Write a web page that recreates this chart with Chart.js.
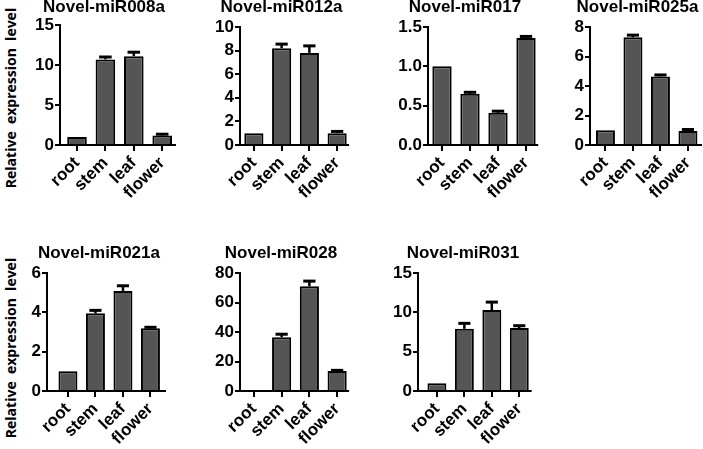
<!DOCTYPE html>
<html>
<head>
<meta charset="utf-8">
<script src="https://cdn.jsdelivr.net/npm/chart.js@4"></script>
<style>
body { margin: 0; background: #fff; width: 703px; height: 449px; position: relative; overflow: hidden; }
canvas { position: absolute; }
.ylab { position: absolute; font-family: 'Open Sans', sans-serif; font-weight: 700; font-size: 14px; white-space: pre; color: #000;
        transform: translate(-50%, -50%) rotate(-90deg); }
</style>
</head>
<body>
<div class="ylab" style="left:10px;top:98px">Relative  expression  level</div>
<div class="ylab" style="left:10px;top:348px">Relative  expression  level</div>
<script>
const categories = ['root', 'stem', 'leaf', 'flower'];
const titles = ['Novel-miR008a', 'Novel-miR012a', 'Novel-miR017', 'Novel-miR025a',
                'Novel-miR021a', 'Novel-miR028', 'Novel-miR031'];

// mean relative expression and error (upper whisker only)
const miR008a = [1.0, 10.7, 11.1, 1.2];
const miR008aErr = [0, 0.3, 0.5, 0.15];
const miR012a = [1.0, 8.2, 7.8, 1.0];
const miR012aErr = [0, 0.35, 0.6, 0.15];
const miR017 = [1.0, 0.65, 0.41, 1.36];
const miR017Err = [0, 0.02, 0.02, 0.02];
const miR025a = [1.0, 7.3, 4.65, 0.95];
const miR025aErr = [0, 0.15, 0.1, 0.1];
const miR021a = [1.0, 3.95, 5.08, 3.19];
const miR021aErr = [0, 0.15, 0.27, 0.05];
const miR028 = [0.5, 36.5, 71, 13.5];
const miR028Err = [0, 2, 3.5, 0.5];
const miR031 = [1.0, 7.9, 10.3, 8.0];
const miR031Err = [0, 0.7, 1.0, 0.3];

const yMax = [15, 10, 1.5, 8, 6, 80, 15];
const yStep = [5, 2, 0.5, 2, 2, 20, 5];

const means = [miR008a, miR012a, miR017, miR025a, miR021a, miR028, miR031];
const errs = [miR008aErr, miR012aErr, miR017Err, miR025aErr, miR021aErr, miR028Err, miR031Err];

// page geometry of each panel: y axis x, plot top/bottom, axis end, bar band left/right, title centre
const geom = [
  { ax: 60,  top: 25,  bot: 145, end: 177, xl: 62.8,  xr: 176.4, tcx: 104,   tcy: 7 },
  { ax: 240, top: 27,  bot: 145, end: 351, xl: 240,   xr: 351,   tcx: 281.5, tcy: 7 },
  { ax: 428, top: 27,  bot: 145, end: 540, xl: 428,   xr: 540,   tcx: 465,   tcy: 7 },
  { ax: 590, top: 27,  bot: 145, end: 702, xl: 591.7, xr: 701.7, tcx: 637.5, tcy: 7 },
  { ax: 47,  top: 273, bot: 391, end: 166, xl: 54.2,  xr: 164.2, tcx: 99,    tcy: 253 },
  { ax: 240, top: 273, bot: 391, end: 351, xl: 240,   xr: 351,   tcx: 281,   tcy: 253 },
  { ax: 418, top: 273, bot: 391, end: 533, xl: 423.2, xr: 533,   tcx: 463,   tcy: 253 }
];

Chart.defaults.font.family = "'Liberation Sans', Arial, sans-serif";
Chart.defaults.color = '#000';

const errorBars = {
  id: 'errorBars',
  afterDatasetsDraw(chart) {
    const ctx = chart.ctx;
    const y = chart.scales.y;
    const ds = chart.data.datasets[0];
    chart.getDatasetMeta(0).data.forEach((bar, i) => {
      const e = ds.errors[i];
      if (!e) return;
      const top = y.getPixelForValue(ds.data[i] + e);
      const half = bar.width * 0.32;
      ctx.save();
      ctx.strokeStyle = '#000';
      ctx.lineWidth = 2.5;
      ctx.beginPath(); ctx.moveTo(bar.x, bar.y); ctx.lineTo(bar.x, top); ctx.stroke();
      ctx.lineWidth = 3;
      ctx.beginPath(); ctx.moveTo(bar.x - half, top); ctx.lineTo(bar.x + half, top); ctx.stroke();
      ctx.restore();
    });
  }
};

// narrows the bar band inside the axis, draws the x axis line and the panel title
const panelFrame = {
  id: 'panelFrame',
  afterLayout(chart, args, opts) {
    const x = chart.scales.x;
    x.left = opts.left;
    x.right = opts.right;
    x.width = opts.right - opts.left;
    x.configure();
  },
  afterDatasetsDraw(chart, args, opts) {
    const a = chart.chartArea, ctx = chart.ctx;
    ctx.save();
    ctx.strokeStyle = '#000';
    ctx.lineWidth = 2;
    ctx.beginPath(); ctx.moveTo(a.left - 1, a.bottom); ctx.lineTo(a.right, a.bottom); ctx.stroke();
    ctx.fillStyle = '#000';
    ctx.font = "bold 17px 'Liberation Sans', Arial, sans-serif";
    ctx.textAlign = 'center';
    ctx.textBaseline = 'middle';
    ctx.fillText(opts.title, opts.tx, opts.ty);
    ctx.restore();
  }
};

geom.forEach((g, i) => {
  const left = g.ax - 50;
  const top = g.tcy - 12;
  const width = Math.max(g.end + 1, Math.ceil(g.tcx + 70)) - left;
  const xH = 64;
  const height = Math.round(g.bot - top + xH);
  const yW = g.ax - left;

  const canvas = document.createElement('canvas');
  canvas.width = width;
  canvas.height = height;
  canvas.style.left = left + 'px';
  canvas.style.top = top + 'px';
  document.body.appendChild(canvas);

  new Chart(canvas, {
    type: 'bar',
    data: {
      labels: categories,
      datasets: [{
        data: means[i],
        errors: errs[i],
        backgroundColor: '#555555',
        borderColor: '#000',
        borderWidth: 2,
        categoryPercentage: 1,
        barPercentage: 0.69
      }]
    },
    options: {
      responsive: false,
      animation: false,
      layout: { padding: { left: 0, right: width - (g.end + 1 - left) + 1, top: g.top - top, bottom: 0 } },
      plugins: {
        legend: { display: false },
        tooltip: { enabled: false },
        title: { display: false },
        panelFrame: { left: g.xl - left, right: g.xr - left, title: titles[i], tx: g.tcx - left, ty: g.tcy - top }
      },
      scales: {
        x: {
          ticks: { minRotation: 45, maxRotation: 45, padding: 2, autoSkip: false,
                   font: { size: 17, weight: 'bold' } },
          grid: { drawOnChartArea: false, offset: false, color: '#000', lineWidth: 2, tickLength: 6 },
          border: { display: false },
          afterFit(s) { s.height = xH; }
        },
        y: {
          min: 0,
          max: yMax[i],
          ticks: {
            stepSize: yStep[i],
            autoSkip: false,
            padding: 1,
            font: { size: 17, weight: 'bold' },
            callback: v => (yStep[i] < 1 ? v.toFixed(1) : v)
          },
          grid: { drawOnChartArea: false, color: '#000', lineWidth: 2, tickLength: 5 },
          border: { color: '#000', width: 2 },
          afterFit(s) { s.width = yW; }
        }
      }
    },
    plugins: [errorBars, panelFrame]
  });
});
</script>
</body>
</html>
